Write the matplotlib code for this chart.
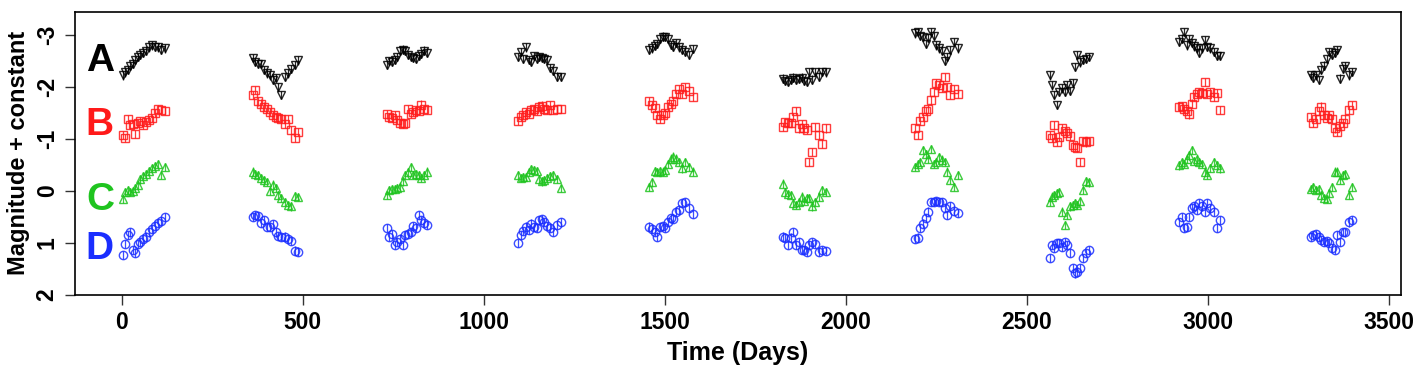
import numpy as np
import matplotlib
matplotlib.use('Agg')
import matplotlib.pyplot as plt

plt.rcParams['font.family'] = ['Liberation Sans', 'DejaVu Sans']
plt.rcParams['font.weight'] = 'bold'

# observing epochs (days), one list per season
times = [
    [4, 10, 17, 24, 31, 38, 45, 52, 60, 67, 75, 83, 92, 100, 110, 120],
    [362, 369, 377, 385, 393, 401, 409, 417, 425, 433, 441, 450, 459, 468, 478, 488],
    [732, 739, 747, 754, 761, 769, 776, 784, 791, 798, 806, 813, 820, 828, 835, 844],
    [1096, 1102, 1109, 1117, 1124, 1132, 1139, 1146, 1154, 1161, 1168, 1176, 1183, 1192, 1202, 1213],
    [1458, 1465, 1472, 1480, 1487, 1494, 1502, 1509, 1517, 1524, 1531, 1539, 1548, 1557, 1566, 1577],
    [1826, 1833, 1841, 1848, 1855, 1863, 1870, 1878, 1885, 1892, 1900, 1907, 1916, 1925, 1935, 1946],
    [2192, 2199, 2206, 2214, 2221, 2228, 2236, 2243, 2250, 2258, 2265, 2273, 2280, 2289, 2298, 2309],
    [2563, 2569, 2575, 2583, 2590, 2598, 2605, 2612, 2620, 2627, 2633, 2640, 2647, 2655, 2663, 2672],
    [2922, 2928, 2935, 2942, 2949, 2956, 2962, 2970, 2977, 2984, 2992, 2999, 3006, 3016, 3025, 3034],
    [3284, 3292, 3299, 3307, 3314, 3321, 3329, 3336, 3343, 3351, 3358, 3365, 3373, 3380, 3389, 3399],
]

# magnitude + constant for each image
mag_a = [
    [-2.22, -2.28, -2.33, -2.40, -2.45, -2.52, -2.57, -2.62, -2.66, -2.70, -2.76, -2.80, -2.77, -2.76, -2.72, -2.74],
    [-2.56, -2.48, -2.45, -2.44, -2.32, -2.26, -2.22, -2.14, -2.17, -2.00, -1.84, -2.19, -2.26, -2.35, -2.42, -2.51],
    [-2.42, -2.50, -2.48, -2.52, -2.58, -2.70, -2.72, -2.70, -2.62, -2.58, -2.56, -2.54, -2.60, -2.64, -2.70, -2.66],
    [-2.58, -2.67, -2.54, -2.76, -2.52, -2.48, -2.60, -2.54, -2.58, -2.55, -2.54, -2.51, -2.36, -2.30, -2.20, -2.19],
    [-2.71, -2.74, -2.79, -2.82, -2.92, -2.97, -2.96, -2.93, -2.81, -2.77, -2.85, -2.76, -2.71, -2.68, -2.62, -2.73],
    [-2.16, -2.12, -2.10, -2.14, -2.18, -2.13, -2.15, -2.18, -2.12, -2.10, -2.28, -2.14, -2.29, -2.20, -2.29, -2.28],
    [-3.03, -3.06, -2.98, -2.96, -2.83, -2.95, -3.05, -2.98, -2.80, -2.74, -2.70, -2.50, -2.58, -2.71, -2.86, -2.74],
    [-2.22, -2.03, -1.85, -1.65, -1.90, -1.97, -1.90, -2.03, -1.92, -2.07, -2.38, -2.61, -2.47, -2.52, -2.54, -2.58],
    [-2.87, -2.93, -3.06, -2.80, -2.92, -2.84, -2.78, -2.74, -2.66, -2.74, -2.90, -2.77, -2.74, -2.67, -2.60, -2.60],
    [-2.22, -2.18, -2.22, -2.13, -2.32, -2.41, -2.54, -2.67, -2.62, -2.66, -2.71, -2.16, -2.35, -2.40, -2.22, -2.29],
]
mag_b = [
    [-1.08, -1.02, -1.38, -1.27, -1.28, -1.10, -1.30, -1.35, -1.27, -1.33, -1.36, -1.40, -1.50, -1.57, -1.55, -1.53],
    [-1.84, -1.94, -1.72, -1.68, -1.62, -1.57, -1.52, -1.46, -1.42, -1.40, -1.39, -1.28, -1.38, -1.17, -1.02, -1.13],
    [-1.47, -1.42, -1.40, -1.46, -1.36, -1.30, -1.28, -1.30, -1.58, -1.48, -1.52, -1.56, -1.54, -1.66, -1.57, -1.56],
    [-1.34, -1.42, -1.46, -1.52, -1.48, -1.56, -1.58, -1.53, -1.62, -1.64, -1.58, -1.55, -1.65, -1.55, -1.58, -1.57],
    [-1.72, -1.65, -1.60, -1.46, -1.39, -1.46, -1.49, -1.62, -1.67, -1.72, -1.87, -1.96, -1.86, -2.00, -1.93, -1.81],
    [-1.23, -1.33, -1.30, -1.30, -1.42, -1.53, -1.20, -1.28, -1.20, -1.17, -0.56, -0.75, -1.23, -1.07, -0.91, -1.20],
    [-1.20, -1.07, -1.34, -1.42, -1.53, -1.58, -1.74, -1.90, -2.07, -2.03, -1.98, -2.19, -2.00, -1.84, -1.96, -1.86],
    [-1.07, -1.01, -1.26, -0.94, -1.04, -1.20, -1.15, -1.12, -1.05, -0.88, -0.85, -0.82, -0.56, -0.95, -0.93, -0.96],
    [-1.62, -1.63, -1.58, -1.53, -1.47, -1.68, -1.81, -1.86, -1.90, -1.89, -2.10, -1.86, -1.90, -1.80, -1.88, -1.56],
    [-1.42, -1.30, -1.38, -1.53, -1.62, -1.46, -1.40, -1.46, -1.38, -1.20, -1.14, -1.24, -1.30, -1.39, -1.56, -1.65],
]
mag_c = [
    [0.15, 0.02, -0.01, 0.02, 0.00, -0.05, -0.12, -0.22, -0.28, -0.32, -0.38, -0.44, -0.47, -0.52, -0.30, -0.46],
    [-0.37, -0.33, -0.30, -0.25, -0.20, -0.17, 0.00, -0.12, -0.05, 0.08, 0.14, 0.22, 0.27, 0.30, 0.10, 0.12],
    [0.08, -0.02, -0.03, -0.04, -0.06, -0.08, -0.18, -0.30, -0.36, -0.46, -0.30, -0.32, -0.31, -0.24, -0.31, -0.37],
    [-0.30, -0.25, -0.27, -0.26, -0.36, -0.42, -0.40, -0.38, -0.23, -0.18, -0.20, -0.24, -0.28, -0.31, -0.23, -0.06],
    [-0.07, -0.16, -0.38, -0.36, -0.38, -0.37, -0.40, -0.52, -0.62, -0.66, -0.62, -0.56, -0.43, -0.56, -0.46, -0.37],
    [-0.14, 0.02, 0.06, 0.08, 0.24, 0.27, 0.21, 0.11, 0.20, 0.14, 0.14, 0.30, 0.21, 0.11, -0.01, 0.02],
    [-0.46, -0.52, -0.56, -0.78, -0.70, -0.62, -0.81, -0.52, -0.56, -0.65, -0.60, -0.56, -0.37, -0.21, -0.07, -0.30],
    [0.21, 0.11, 0.08, 0.05, 0.02, 0.40, 0.66, 0.47, 0.30, 0.27, 0.24, 0.27, 0.20, -0.01, -0.18, -0.16],
    [-0.49, -0.56, -0.52, -0.62, -0.68, -0.78, -0.58, -0.62, -0.56, -0.52, -0.37, -0.30, -0.44, -0.56, -0.49, -0.43],
    [-0.04, -0.07, -0.01, -0.04, 0.08, 0.14, 0.16, 0.04, -0.07, -0.37, -0.37, -0.21, -0.30, -0.33, 0.08, -0.07],
]
mag_d = [
    [1.24, 1.02, 0.85, 0.80, 1.14, 1.19, 1.02, 0.98, 0.92, 0.88, 0.80, 0.74, 0.67, 0.62, 0.58, 0.50],
    [0.50, 0.47, 0.48, 0.62, 0.56, 0.70, 0.70, 0.64, 0.80, 0.87, 0.89, 0.88, 0.93, 0.96, 1.15, 1.17],
    [0.72, 0.88, 0.84, 1.04, 0.98, 0.92, 1.04, 0.86, 0.83, 0.79, 0.68, 0.72, 0.47, 0.56, 0.62, 0.66],
    [1.01, 0.85, 0.78, 0.69, 0.76, 0.63, 0.70, 0.72, 0.56, 0.54, 0.60, 0.68, 0.72, 0.79, 0.66, 0.61],
    [0.69, 0.74, 0.79, 0.88, 0.70, 0.68, 0.72, 0.60, 0.53, 0.54, 0.40, 0.36, 0.24, 0.22, 0.33, 0.45],
    [0.88, 0.90, 1.04, 0.90, 0.79, 1.04, 0.98, 1.14, 1.14, 1.17, 1.04, 0.98, 1.03, 1.17, 1.14, 1.16],
    [0.92, 0.90, 0.72, 0.63, 0.52, 0.40, 0.21, 0.21, 0.20, 0.21, 0.22, 0.33, 0.47, 0.30, 0.38, 0.43],
    [1.29, 1.04, 1.10, 1.01, 1.01, 1.08, 0.98, 1.05, 1.20, 1.49, 1.59, 1.56, 1.49, 1.29, 1.20, 1.14],
    [0.60, 0.50, 0.72, 0.70, 0.50, 0.33, 0.30, 0.37, 0.24, 0.30, 0.40, 0.24, 0.33, 0.40, 0.72, 0.56],
    [0.88, 0.85, 0.84, 0.88, 0.95, 0.98, 0.97, 1.01, 1.10, 1.14, 0.85, 0.98, 0.79, 0.80, 0.61, 0.56],
]
mag_err = 0.08

names = ['A', 'B', 'C', 'D']
label_y = [-2.5, -1.27, 0.17, 1.13]
colors = ['#000000', '#FF1A1A', '#1FC41F', '#1A2EFF']
markers = ['v', 's', '^', 'o']
series = [mag_a, mag_b, mag_c, mag_d]

fig = plt.figure(figsize=(14.21, 3.80), dpi=100)
ax = fig.add_axes([0.053, 0.2245, 0.9327, 0.745])

for k in range(4):
    for t, m in zip(times, series[k]):
        ax.errorbar(t, m, yerr=mag_err, fmt=markers[k], ms=6, mfc='none',
                    mec=colors[k], mew=1.0, ecolor=colors[k], elinewidth=0.9,
                    capsize=0, alpha=0.85)
    ax.text(-60, label_y[k], names[k], color=colors[k], fontsize=28,
            fontweight='bold', ha='center', va='center')

ax.set_xlim(-128, 3533)
ax.set_ylim(2.0, -3.45)
ax.set_xticks([0, 500, 1000, 1500, 2000, 2500, 3000, 3500])
ax.set_yticks([-3, -2, -1, 0, 1, 2])
ax.set_yticklabels(['-3', '-2', '-1', '0', '1', '2'], rotation=90, va='center')
ax.tick_params(direction='out', length=7, width=1, labelsize=16.5, colors='#333333',
               labelcolor='black', pad=5)
for s in ax.spines.values():
    s.set_linewidth(1.2)
ax.set_xlabel('Time (Days)', fontsize=18, fontweight='bold', labelpad=5)
ax.set_ylabel('Magnitude + constant', fontsize=17, fontweight='bold', labelpad=4)

fig.savefig('out.png', dpi=100)
